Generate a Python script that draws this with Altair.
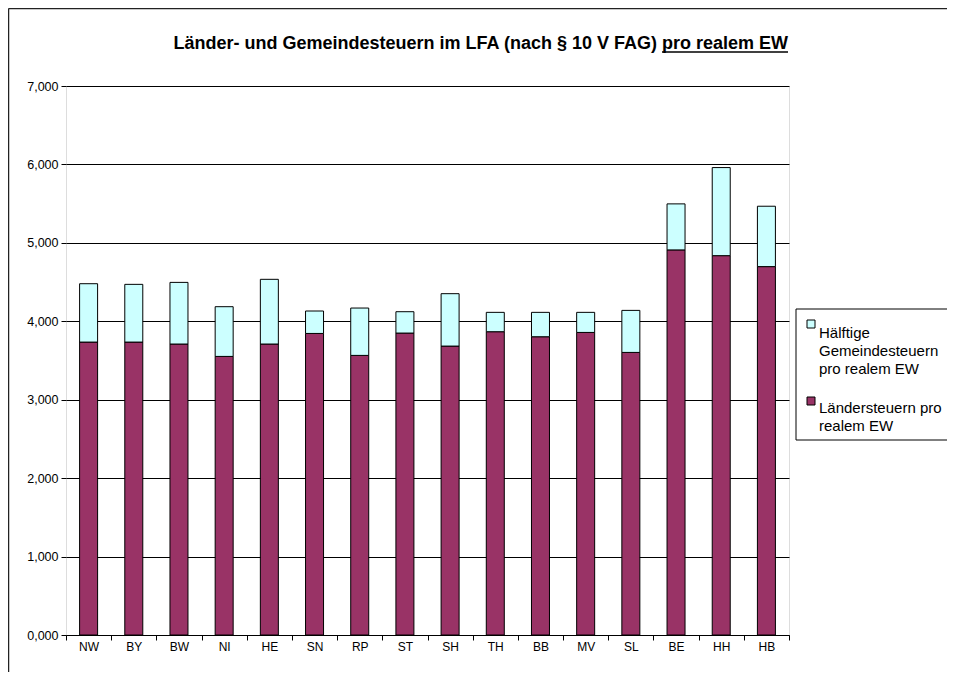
import altair as alt
import pandas as pd

states = ["NW", "BY", "BW", "NI", "HE", "SN", "RP", "ST", "SH", "TH", "BB", "MV", "SL", "BE", "HH", "HB"]
laender = [3735, 3735, 3710, 3552, 3710, 3845, 3565, 3850, 3684, 3867, 3803, 3858, 3603, 4910, 4837, 4697]
gemeinde = [744, 736, 786, 634, 825, 286, 604, 272, 668, 247, 311, 256, 536, 587, 1123, 770]

series_names = ["Ländersteuern pro realem EW", "Hälftige Gemeindesteuern pro realem EW"]
series_colors = ["#993366", "#CCFFFF"]

rows = []
for s, l, g in zip(states, laender, gemeinde):
    rows.append({"Land": s, "Serie": series_names[0], "Wert": l, "ord": 0})
    rows.append({"Land": s, "Serie": series_names[1], "Wert": g, "ord": 1})
df = pd.DataFrame(rows)

FONT = "Liberation Sans"
W, H = 723, 549

bars = alt.Chart(df).mark_bar(size=18, stroke="black", strokeWidth=1).encode(
    x=alt.X("Land:N", sort=states, title=None,
            scale=alt.Scale(paddingInner=0, paddingOuter=0),
            axis=alt.Axis(labelAngle=0, tickBand="extent", tickSize=5, tickColor="black",
                          domainColor="black", labelFont=FONT, labelFontSize=12,
                          labelColor="black", labelPadding=1, grid=False)),
    y=alt.Y("Wert:Q", stack="zero", title=None,
            scale=alt.Scale(domain=[0, 7000], nice=False),
            axis=alt.Axis(values=[0, 1000, 2000, 3000, 4000, 5000, 6000, 7000],
                          labelExpr="replace(format(datum.value/1000, '.3f'), '.', ',')",
                          grid=True, gridColor="black", gridWidth=1, tickSize=5,
                          tickColor="black", domain=False, labelFont=FONT,
                          labelFontSize=12.5, labelColor="black", labelPadding=3)),
    color=alt.Color("Serie:N", scale=alt.Scale(domain=series_names, range=series_colors), legend=None),
    order=alt.Order("ord:Q", sort="ascending"),
)

one = alt.Data(values=[{}])

title1 = alt.Chart(one).mark_text(font=FONT, fontSize=18, fontWeight="bold", align="right",
                                  baseline="alphabetic", color="black").encode(
    x=alt.value(591), y=alt.value(-37.5),
    text=alt.value("Länder- und Gemeindesteuern im LFA (nach § 10 V FAG)"))
title2 = alt.Chart(one).mark_text(font=FONT, fontSize=18, fontWeight="bold", align="left",
                                  baseline="alphabetic", color="black").encode(
    x=alt.value(596), y=alt.value(-37.5), text=alt.value("pro realem EW"))
underline = alt.Chart(one).mark_rule(color="black", strokeWidth=1.5).encode(
    x=alt.value(596), x2=alt.value(722), y=alt.value(-34))

frame_left = alt.Chart(one).mark_rule(color="#222222", strokeWidth=1.5).encode(
    x=alt.value(-57.5), y=alt.value(-77.5), y2=alt.value(700))
frame_top = alt.Chart(one).mark_rule(color="#222222", strokeWidth=1.5).encode(
    x=alt.value(-57.5), x2=alt.value(900), y=alt.value(-77.5))

leg_box = alt.Chart(one).mark_rect(fill="white", stroke="black", strokeWidth=1).encode(
    x=alt.value(730), x2=alt.value(900), y=alt.value(223), y2=alt.value(354))
leg_sq1 = alt.Chart(one).mark_rect(fill=series_colors[1], stroke="black", strokeWidth=1).encode(
    x=alt.value(741), x2=alt.value(749), y=alt.value(234), y2=alt.value(242))
leg_sq2 = alt.Chart(one).mark_rect(fill=series_colors[0], stroke="black", strokeWidth=1).encode(
    x=alt.value(741), x2=alt.value(749), y=alt.value(311), y2=alt.value(319))
leg_t1 = alt.Chart(one).mark_text(font=FONT, fontSize=15, align="left", baseline="alphabetic",
                                  lineHeight=18.3, color="black").encode(
    x=alt.value(753), y=alt.value(251.5),
    text=alt.value(["Hälftige", "Gemeindesteuern", "pro realem EW"]))
leg_t2 = alt.Chart(one).mark_text(font=FONT, fontSize=15, align="left", baseline="alphabetic",
                                  lineHeight=18.3, color="black").encode(
    x=alt.value(753), y=alt.value(326.5),
    text=alt.value(["Ländersteuern pro", "realem EW"]))

chart = alt.layer(
    bars, title1, title2, underline, frame_left, frame_top,
    leg_box, leg_sq1, leg_sq2, leg_t1, leg_t2
).properties(
    width=W, height=H,
    autosize=alt.AutoSizeParams(type="none"),
    padding={"left": 58, "top": 78, "right": 158, "bottom": 37},
).configure_view(
    stroke="#999999", strokeWidth=2
).configure(background="white")

chart.save("out.html", embed_options={"renderer": "svg", "actions": False})
